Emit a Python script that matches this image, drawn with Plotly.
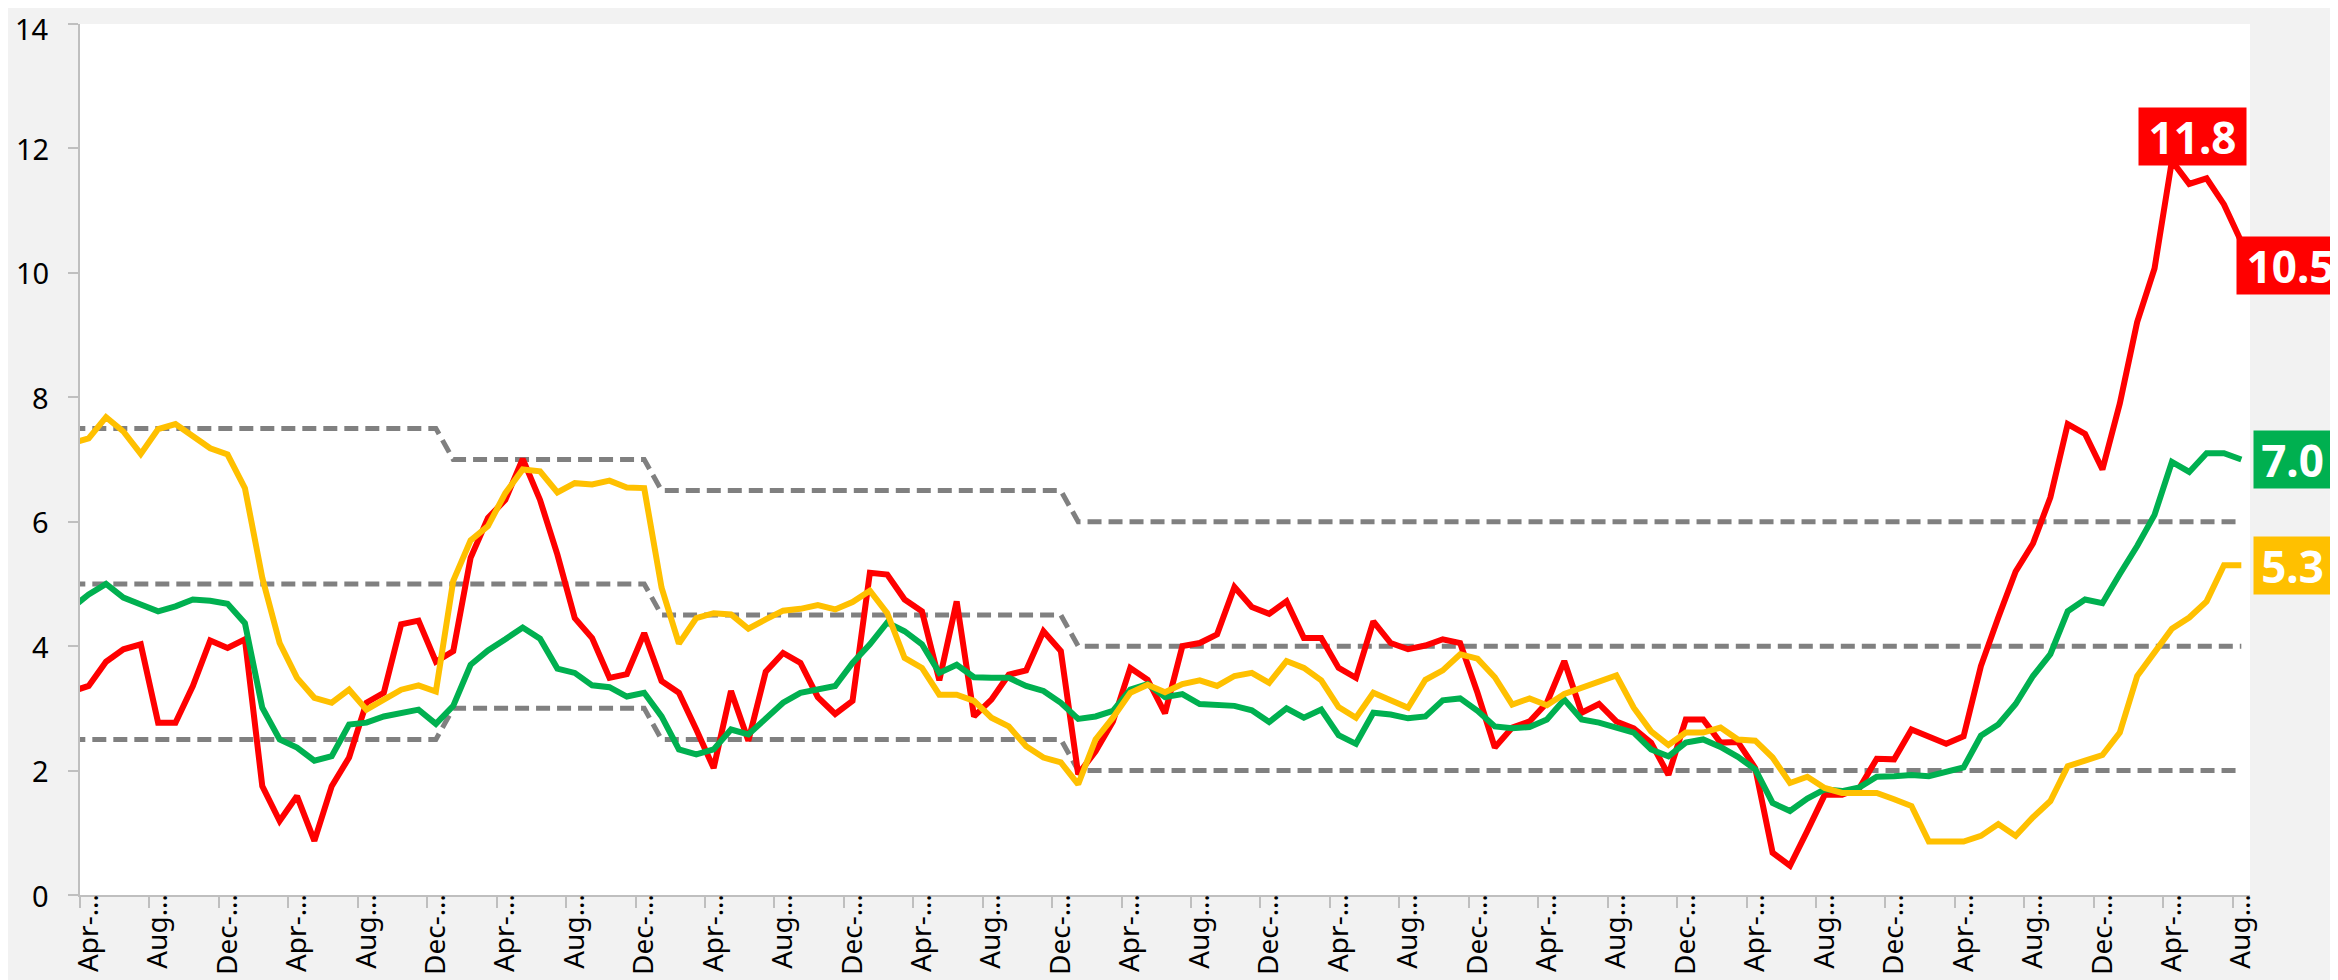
import pandas as pd
import plotly.graph_objects as go

# Monthly labels, Mar-2012 .. Aug-2022 (first month sits just left of the axis and is clipped)
months = list(pd.period_range("2012-03", "2022-08", freq="M").strftime("%b-%y"))

red = [3.27, 3.36, 3.75, 3.95, 4.03, 2.77, 2.77, 3.36, 4.09, 3.97, 4.11, 1.75, 1.19, 1.59, 0.87, 1.75,
       2.21, 3.09, 3.25, 4.35, 4.41, 3.75, 3.92, 5.42, 6.06, 6.35, 7.01, 6.35, 5.47, 4.45, 4.13, 3.49,
       3.55, 4.21, 3.44, 3.25, 2.66, 2.04, 3.28, 2.48, 3.59, 3.89, 3.73, 3.18, 2.91, 3.12, 5.18, 5.15,
       4.75, 4.56, 3.45, 4.72, 2.87, 3.14, 3.54, 3.61, 4.24, 3.92, 1.94, 2.31, 2.79, 3.65, 3.46, 2.92,
       4.00, 4.05, 4.19, 4.95, 4.63, 4.52, 4.72, 4.13, 4.13, 3.65, 3.49, 4.40, 4.05, 3.95, 4.01, 4.11,
       4.05, 3.25, 2.37, 2.69, 2.79, 3.09, 3.76, 2.93, 3.07, 2.79, 2.68, 2.45, 1.93, 2.82, 2.82, 2.45,
       2.46, 2.04, 0.68, 0.47, 1.03, 1.61, 1.61, 1.72, 2.19, 2.18, 2.66, 2.55, 2.43, 2.55, 3.68, 4.46,
       5.20, 5.65, 6.39, 7.57, 7.41, 6.84, 7.90, 9.21, 10.07, 11.8, 11.43, 11.52, 11.10, 10.5]

green = [4.61, 4.83, 5.00, 4.78, 4.67, 4.56, 4.64, 4.75, 4.73, 4.68, 4.37, 3.01, 2.50, 2.37, 2.16, 2.23,
         2.74, 2.77, 2.87, 2.93, 2.98, 2.75, 3.04, 3.70, 3.93, 4.11, 4.30, 4.12, 3.64, 3.57, 3.37, 3.34,
         3.19, 3.25, 2.87, 2.34, 2.26, 2.34, 2.66, 2.58, 2.85, 3.09, 3.25, 3.30, 3.36, 3.73, 4.03, 4.38,
         4.24, 4.03, 3.57, 3.70, 3.50, 3.49, 3.49, 3.36, 3.28, 3.09, 2.83, 2.87, 2.96, 3.30, 3.39, 3.18,
         3.23, 3.07, 3.05, 3.04, 2.97, 2.78, 3.00, 2.85, 2.98, 2.57, 2.43, 2.93, 2.90, 2.84, 2.87, 3.13,
         3.16, 2.96, 2.71, 2.68, 2.70, 2.82, 3.14, 2.82, 2.77, 2.70, 2.61, 2.34, 2.23, 2.45, 2.50, 2.38,
         2.22, 2.02, 1.48, 1.35, 1.55, 1.70, 1.67, 1.73, 1.90, 1.91, 1.93, 1.91, 1.98, 2.05, 2.56, 2.74,
         3.07, 3.52, 3.87, 4.56, 4.75, 4.69, 5.16, 5.61, 6.11, 6.96, 6.80, 7.10, 7.10, 7.00]

yellow = [7.26, 7.34, 7.68, 7.45, 7.09, 7.49, 7.57, 7.37, 7.18, 7.08, 6.54, 5.10, 4.05, 3.49, 3.17, 3.09,
          3.30, 2.98, 3.14, 3.30, 3.37, 3.27, 5.05, 5.70, 5.93, 6.46, 6.84, 6.81, 6.47, 6.62, 6.60, 6.66,
          6.55, 6.54, 4.94, 4.04, 4.45, 4.53, 4.51, 4.28, 4.43, 4.57, 4.60, 4.66, 4.59, 4.71, 4.89, 4.53,
          3.81, 3.65, 3.22, 3.22, 3.12, 2.85, 2.71, 2.39, 2.21, 2.13, 1.78, 2.50, 2.85, 3.25, 3.38, 3.26,
          3.39, 3.45, 3.36, 3.52, 3.57, 3.41, 3.76, 3.65, 3.45, 3.02, 2.85, 3.25, 3.13, 3.01, 3.46, 3.61,
          3.87, 3.80, 3.50, 3.06, 3.16, 3.05, 3.23, 3.33, 3.42, 3.53, 3.01, 2.63, 2.41, 2.61, 2.61, 2.69,
          2.50, 2.48, 2.21, 1.80, 1.90, 1.72, 1.64, 1.64, 1.64, 1.54, 1.43, 0.86, 0.86, 0.86, 0.95, 1.14,
          0.95, 1.25, 1.51, 2.07, 2.16, 2.25, 2.61, 3.52, 3.90, 4.28, 4.46, 4.72, 5.30, 5.30]

# Target band (upper / centre / lower) at its change points
band_dates = ["Mar-12", "Dec-13", "Jan-14", "Dec-14", "Jan-15", "Dec-16", "Jan-17", "Aug-22"]
band_upper = [7.5, 7.5, 7.0, 7.0, 6.5, 6.5, 6.0, 6.0]
band_mid = [5.0, 5.0, 5.0, 5.0, 4.5, 4.5, 4.0, 4.0]
band_lower = [2.5, 2.5, 3.0, 3.0, 2.5, 2.5, 2.0, 2.0]

tick_months = months[1::4]
tick_labels = ["Apr-…", "Aug…", "Dec-…"] * 10 + ["Apr-…", "Aug…"]
y_ticks = [0, 2, 4, 6, 8, 10, 12, 14]

pos = {m: i - 1 for i, m in enumerate(months)}
xs = [pos[m] for m in months]

RED, GREEN, YELLOW, GRAY = "#FF0000", "#00B050", "#FFC000", "#808080"
AXIS = "#BFBFBF"
FONT = "Noto Sans"

fig = go.Figure()
bx = [pos[d] for d in band_dates]
for band in (band_upper, band_mid, band_lower):
    fig.add_trace(go.Scatter(x=bx, y=band, mode="lines",
                             line=dict(color=GRAY, width=5, dash="14px,7px"), hoverinfo="skip"))
for ser, col in ((red, RED), (green, GREEN), (yellow, YELLOW)):
    fig.add_trace(go.Scatter(x=xs, y=ser, mode="lines", line=dict(color=col, width=6)))

last = pos[months[-1]]
peak = pos["Apr-22"]
ann = [
    dict(x=peak, y=red[months.index("Apr-22")], text="<b>11.8</b>", bgcolor=RED,
         xanchor="center", yanchor="bottom", xshift=21, yshift=-5, width=103),
    dict(x=last, y=red[-1], text="<b>10.5</b>", bgcolor=RED,
         xanchor="left", yanchor="middle", xshift=-5, yshift=-24, width=103),
    dict(x=last, y=green[-1], text="<b>7.0</b>", bgcolor=GREEN,
         xanchor="left", yanchor="middle", xshift=12, yshift=0, width=73),
    dict(x=last, y=yellow[-1], text="<b>5.3</b>", bgcolor=YELLOW,
         xanchor="left", yanchor="middle", xshift=12, yshift=0, width=73),
]
for a in ann:
    fig.add_annotation(**a, xref="x", yref="y", showarrow=False, height=53,
                       borderpad=2, align="center", valign="middle",
                       font=dict(family=FONT, size=44, color="white"))

# value-axis labels, placed left of the axis ticks
for v in y_ticks:
    fig.add_annotation(x=0, xref="paper", y=v, yref="y", text=str(v), showarrow=False,
                       xanchor="right", yanchor="middle", xshift=-29,
                       yshift=-4 if v == y_ticks[-1] else 0,
                       font=dict(family=FONT, size=29, color="black"))

fig.update_layout(
    width=2338, height=980,
    margin=dict(l=72, r=96, t=16, b=93),
    paper_bgcolor="#F2F2F2", plot_bgcolor="white",
    showlegend=False,
    font=dict(family=FONT, size=29, color="black"),
)
fig.update_xaxes(
    range=[-0.5, 124.5], tickmode="array",
    tickvals=[pos[m] for m in tick_months], ticktext=tick_labels,
    tickangle=-90, ticks="", ticklen=0, showgrid=False, zeroline=False,
    showline=True, linecolor=AXIS, linewidth=2,
    tickfont=dict(family=FONT, size=28, color="black"),
    ticklabeloverflow="allow", ticklabelstandoff=-14,
    minor=dict(tickmode="array", tickvals=[k - 0.5 for k in range(0, 126, 4)],
               ticks="outside", ticklen=11, tickcolor=AXIS, tickwidth=2, showgrid=False),
    automargin=False,
)
fig.update_yaxes(
    range=[0, 14], tickmode="array", tickvals=y_ticks, showticklabels=False,
    ticks="outside", ticklen=10, tickcolor=AXIS, tickwidth=2,
    showline=True, linecolor=AXIS, linewidth=2, showgrid=False, zeroline=False,
    automargin=False,
)

fig.write_html("out.html")
